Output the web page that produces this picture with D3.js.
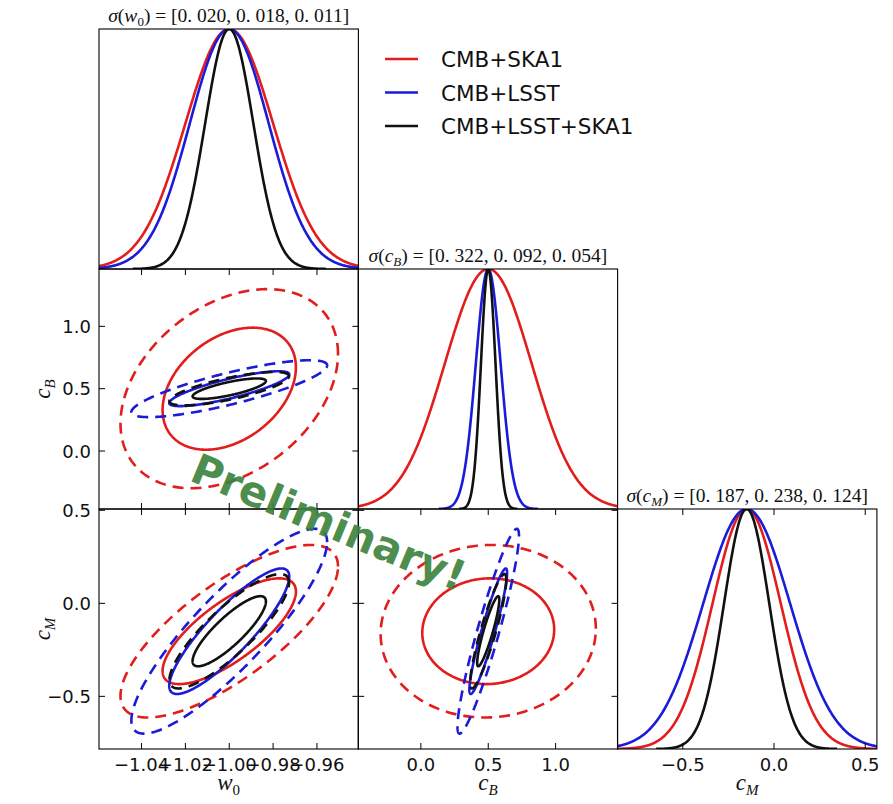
<!DOCTYPE html>
<html><head><meta charset="utf-8">
<script src="https://cdn.jsdelivr.net/npm/d3@7"></script>
<style>body{margin:0;background:#fff} svg{display:block}</style>
</head><body><svg id="chart" width="893" height="804"></svg>
<script>
// Forecast constraints on (w0, cB, cM) for three survey combinations
const experiments = ["CMB+SKA1", "CMB+LSST", "CMB+LSST+SKA1"];
const expColors = ["#e31c1c", "#1b1bd8", "#111111"];
const fiducial = { w0: -1.0, cB: 0.5, cM: -0.15 };
// marginalised 1-sigma errors (1D panels and titles)
const sigmaW0 = [0.020, 0.018, 0.011];
const sigmaCB = [0.322, 0.092, 0.054];
const sigmaCM = [0.187, 0.238, 0.124];
// widths used for the joint contours in cM
const contourSigmaCM = [0.187, 0.222, 0.124];
// correlation coefficients for each parameter pair, per experiment
const corrW0CB = [0.35, 0.82, 0.75];
const corrW0CM = [0.75, 0.87, 0.85];
const corrCBCM = [0.03, 0.93, 0.90];
// 68% and 95% contour scale factors for 2 parameters
const contourLevels = [1.52, 2.48];
const w0Domain = [-1.0594, -0.9411];
const cBDomain = [-0.465, 1.46];
const cMDomain1D = [-0.858, 0.564];
const cMDomain2D = [-0.783, 0.507];
const w0Ticks = [-1.04, -1.02, -1.00, -0.98, -0.96];
const cBTicks = [0.0, 0.5, 1.0];
const cMTicks = [-0.5, 0.0, 0.5];
const watermark = "Preliminary!";

const svg = d3.select("#chart");
const colX = [99, 358.2, 617.5], colW = 259.4;
const rowY = [29, 269, 509], rowH = 240;
const tickLen = 6;
const fmt = d3.format(".2f"), fmt1 = d3.format(".1f");

const sigmas = { w0: sigmaW0, cB: sigmaCB, cM: sigmaCM };
const contourSigmas = { w0: sigmaW0, cB: sigmaCB, cM: contourSigmaCM };
const corr = { "w0|cB": corrW0CB, "w0|cM": corrW0CM, "cB|cM": corrCBCM };

let clipId = 0;
function panel(col, row) {
  const g = svg.append("g").attr("transform", `translate(${colX[col]},${rowY[row]})`);
  const id = "clip" + (clipId++);
  g.append("clipPath").attr("id", id).append("rect").attr("width", colW).attr("height", rowH);
  const plot = g.append("g").attr("clip-path", `url(#${id})`);
  return { g, plot };
}

function frame(g) {
  g.append("rect").attr("width", colW).attr("height", rowH)
    .attr("fill", "none").attr("stroke", "#000").attr("stroke-width", 1.1);
}

function xTicks(g, x, ticks, top, bottom, labels, f) {
  ticks.forEach(t => {
    const px = x(t);
    if (bottom) g.append("line").attr("x1", px).attr("x2", px).attr("y1", rowH).attr("y2", rowH - tickLen).attr("stroke", "#000");
    if (top) g.append("line").attr("x1", px).attr("x2", px).attr("y1", 0).attr("y2", tickLen).attr("stroke", "#000");
    if (labels) g.append("text").attr("x", px).attr("y", rowH + 22).attr("text-anchor", "middle")
      .attr("font-family", "DejaVu Sans").attr("font-size", 18).attr("fill", "#111").text(f(t));
  });
}
function yTicks(g, y, ticks, left, right, labels, f) {
  ticks.forEach(t => {
    const py = y(t);
    if (left) g.append("line").attr("x1", 0).attr("x2", tickLen).attr("y1", py).attr("y2", py).attr("stroke", "#000");
    if (right) g.append("line").attr("x1", colW).attr("x2", colW - tickLen).attr("y1", py).attr("y2", py).attr("stroke", "#000");
    if (labels) g.append("text").attr("x", -8).attr("y", py).attr("dy", "0.36em").attr("text-anchor", "end")
      .attr("font-family", "DejaVu Sans").attr("font-size", 18).attr("fill", "#111").text(f(t));
  });
}

// 1D marginal: Gaussian normalised to unit peak, drawn out to 4 sigma
function marginal(col, row, key, domain, title) {
  const { g, plot } = panel(col, row);
  const x = d3.scaleLinear().domain(domain).range([0, colW]);
  const y = d3.scaleLinear().domain([0, 1]).range([rowH, 0]);
  const mu = fiducial[key];
  experiments.forEach((e, i) => {
    const s = sigmas[key][i];
    const pts = d3.range(-4, 4.0001, 0.02).map(k => [mu + k * s, Math.exp(-0.5 * k * k)]);
    plot.append("path").datum(pts)
      .attr("d", d3.line().x(d => x(d[0])).y(d => y(d[1])))
      .attr("fill", "none").attr("stroke", expColors[i]).attr("stroke-width", 2.6);
  });
  frame(g);
  const tt = g.append("text").attr("x", colW / 2).attr("y", -7).attr("text-anchor", "middle")
    .attr("font-family", "Liberation Serif").attr("font-size", 19.5).attr("fill", "#111");
  title(tt);
  return { g, x };
}

// 2D joint: confidence ellipses from sigmas and correlation
function joint(col, row, kx, ky, xDomain, yDomain) {
  const { g, plot } = panel(col, row);
  const x = d3.scaleLinear().domain(xDomain).range([0, colW]);
  const y = d3.scaleLinear().domain(yDomain).range([rowH, 0]);
  const rhos = corr[kx + "|" + ky];
  experiments.forEach((e, i) => {
    const sx = contourSigmas[kx][i], sy = contourSigmas[ky][i], r = rhos[i];
    contourLevels.forEach((a, li) => {
      const pts = d3.range(0, 2 * Math.PI, Math.PI / 180).map(t => [
        fiducial[kx] + a * sx * Math.cos(t),
        fiducial[ky] + a * sy * (r * Math.cos(t) + Math.sqrt(1 - r * r) * Math.sin(t))
      ]);
      plot.append("path").datum(pts)
        .attr("d", d3.line().x(d => x(d[0])).y(d => y(d[1])).curve(d3.curveLinearClosed))
        .attr("fill", "none").attr("stroke", expColors[i]).attr("stroke-width", 2.6)
        .attr("stroke-dasharray", li === 1 ? "11,7" : null);
    });
  });
  frame(g);
  return { g, x, y };
}

function sigmaTitle(sym, sub) {
  return t => {
    t.append("tspan").attr("font-style", "italic").text("σ");
    t.append("tspan").text("(");
    t.append("tspan").attr("font-style", "italic").text(sym);
    t.append("tspan").attr("font-size", 13).attr("dy", 4).attr("font-style", sub === "0" ? "normal" : "italic").text(sub);
    t.append("tspan").attr("dy", -4).text(")");
    return t;
  };
}
function titleText(sym, sub, vals) {
  const f = sigmaTitle(sym, sub);
  return t => { f(t); t.append("tspan").text(" = [" + vals.map(v => v.toFixed(3).replace(".", ". ")).join(", ") + "]"); };
}

// diagonal
const m0 = marginal(0, 0, "w0", w0Domain, titleText("w", "0", sigmaW0));
const m1 = marginal(1, 1, "cB", cBDomain, titleText("c", "B", sigmaCB));
const m2 = marginal(2, 2, "cM", cMDomain1D, titleText("c", "M", sigmaCM));
xTicks(m2.g, m2.x, cMTicks, true, true, true, fmt1);

// off-diagonal
const p10 = joint(0, 1, "w0", "cB", w0Domain, cBDomain);
xTicks(p10.g, p10.x, w0Ticks, true, true, false, fmt);
yTicks(p10.g, p10.y, cBTicks, true, true, true, fmt1);
const p20 = joint(0, 2, "w0", "cM", w0Domain, cMDomain2D);
xTicks(p20.g, p20.x, w0Ticks, true, true, true, fmt);
yTicks(p20.g, p20.y, cMTicks, true, true, true, fmt1);
const p21 = joint(1, 2, "cB", "cM", cBDomain, cMDomain2D);
xTicks(p21.g, p21.x, cBTicks, true, true, true, fmt1);
yTicks(p21.g, p21.y, cMTicks, true, true, false, fmt1);

// axis labels
function mathLabel(sel, sym, sub) {
  sel.attr("font-family", "Liberation Serif").attr("font-size", 23).attr("fill", "#111");
  sel.append("tspan").attr("font-style", "italic").text(sym);
  sel.append("tspan").attr("font-size", 15).attr("dy", 5).attr("font-style", sub === "0" ? "normal" : "italic").text(sub);
}
[["w", "0", 0], ["c", "B", 1], ["c", "M", 2]].forEach(([s, sub, c]) => {
  mathLabel(svg.append("text").attr("x", colX[c] + colW / 2).attr("y", 790).attr("text-anchor", "middle"), s, sub);
});
[["c", "B", 1], ["c", "M", 2]].forEach(([s, sub, r]) => {
  mathLabel(svg.append("text").attr("text-anchor", "middle")
    .attr("transform", `translate(50,${rowY[r] + rowH / 2}) rotate(-90)`), s, sub);
});

// legend
const leg = svg.append("g").attr("transform", "translate(385,0)");
experiments.forEach((e, i) => {
  const yb = 67 + i * 33.5;
  leg.append("line").attr("x1", 0).attr("x2", 33).attr("y1", yb - 8).attr("y2", yb - 8)
    .attr("stroke", expColors[i]).attr("stroke-width", 2.6);
  leg.append("text").attr("x", 56).attr("y", yb).attr("font-family", "DejaVu Sans")
    .attr("font-size", 21.5).attr("fill", "#111").text(e);
});

// watermark
svg.append("text").attr("transform", "translate(188,480) rotate(22.5)")
  .attr("font-family", "DejaVu Sans").attr("font-weight", "bold").attr("font-size", 42)
  .attr("fill", "#3b823b").attr("fill-opacity", 0.92).text(watermark);
</script></body></html>
